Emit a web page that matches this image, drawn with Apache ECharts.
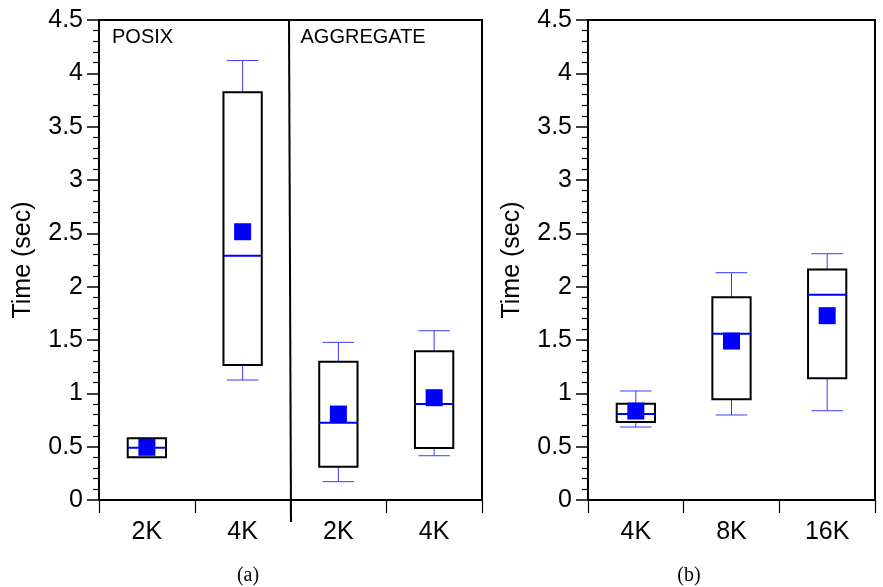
<!DOCTYPE html>
<html>
<head>
<meta charset="utf-8">
<script src="https://cdn.jsdelivr.net/npm/echarts@6/dist/echarts.min.js"></script>
<style>
html,body{margin:0;padding:0;background:#fff;}
#c{width:883px;height:587px;}
</style>
</head>
<body>
<div id="c"></div>
<script>
// ---- data ----
const catsA = ['2K', '4K', '2K', '4K'];
const lowA    = [0.40, 1.125, 0.172, 0.415];
const q1A     = [0.40, 1.266, 0.312, 0.488];
const medA    = [0.49, 2.29, 0.725, 0.90];
const q3A     = [0.578, 3.822, 1.297, 1.394];
const highA   = [0.578, 4.12, 1.478, 1.587];
const meanA   = [0.494, 2.515, 0.806, 0.959];
const groupLabelsA = ['POSIX', 'AGGREGATE'];

const catsB = ['4K', '8K', '16K'];
const lowB    = [0.684, 0.797, 0.837];
const q1B     = [0.731, 0.944, 1.141];
const medB    = [0.806, 1.559, 1.925];
const q3B     = [0.903, 1.90, 2.162];
const highB   = [1.022, 2.131, 2.309];
const meanB   = [0.834, 1.49, 1.728];

const yTicks = { min: 0, max: 4.5, interval: 0.5 };
const captions = ['(a)', '(b)'];

// ---- build ----
const FONT = 'Liberation Sans, Arial, Helvetica, sans-serif';
function boxData(low, q1, med, q3, high) {
  return low.map((v, i) => [i, v, q1[i], med[i], q3[i], high[i]]);
}
function meanData(m) { return m.map((v, i) => [i, v]); }

function renderBox(params, api) {
  const x = api.value(0);
  const pLow = api.coord([x, api.value(1)]);
  const pQ1 = api.coord([x, api.value(2)]);
  const pMed = api.coord([x, api.value(3)]);
  const pQ3 = api.coord([x, api.value(4)]);
  const pHigh = api.coord([x, api.value(5)]);
  const band = api.size([1, 0])[0];
  const bw = band * 0.40, cw = band * 0.33;
  const cx = pMed[0];
  const wStyle = { stroke: '#3a3aff', lineWidth: 1, fill: null };
  return {
    type: 'group',
    children: [
      { type: 'line', shape: { x1: cx, y1: pQ3[1], x2: cx, y2: pHigh[1] }, style: wStyle },
      { type: 'line', shape: { x1: cx - cw / 2, y1: pHigh[1], x2: cx + cw / 2, y2: pHigh[1] }, style: wStyle },
      { type: 'line', shape: { x1: cx, y1: pQ1[1], x2: cx, y2: pLow[1] }, style: wStyle },
      { type: 'line', shape: { x1: cx - cw / 2, y1: pLow[1], x2: cx + cw / 2, y2: pLow[1] }, style: wStyle },
      { type: 'rect', shape: { x: cx - bw / 2, y: pQ3[1], width: bw, height: pQ1[1] - pQ3[1] },
        style: { stroke: '#000', lineWidth: 2, fill: null } },
      { type: 'line', shape: { x1: cx - bw / 2, y1: pMed[1], x2: cx + bw / 2, y2: pMed[1] },
        style: { stroke: '#0000ff', lineWidth: 2 } }
    ]
  };
}

function yAxis(gi) {
  return {
    type: 'value', gridIndex: gi, min: yTicks.min, max: yTicks.max, interval: yTicks.interval,
    name: 'Time (sec)', nameLocation: 'middle', nameRotate: 90, nameGap: 63,
    nameTextStyle: { fontSize: 25, color: '#000', fontFamily: FONT },
    axisLine: { show: true, lineStyle: { color: '#000', width: 2 } },
    axisTick: { show: true, length: 12, lineStyle: { color: '#000', width: 1.5 } },
    minorTick: { show: true, splitNumber: 5, length: 6, lineStyle: { color: '#000', width: 1.2 } },
    splitLine: { show: false },
    axisLabel: { fontSize: 25, color: '#000', fontFamily: FONT, margin: 16 }
  };
}
function xAxis(gi, cats) {
  return {
    type: 'category', gridIndex: gi, data: cats, boundaryGap: true,
    axisLine: { show: true, lineStyle: { color: '#000', width: 2 } },
    axisTick: { show: true, length: 13, alignWithLabel: false, lineStyle: { color: '#000', width: 1.2 } },
    axisLabel: { fontSize: 25, color: '#000', fontFamily: FONT, margin: 20 },
    splitLine: { show: false }
  };
}

const chart = echarts.init(document.getElementById('c'), null, { renderer: 'canvas' });
const gridA = { left: 99, top: 20, width: 383, height: 480 };
const gridB = { left: 588, top: 20, width: 287, height: 480 };
chart.setOption({
  animation: false,
  backgroundColor: '#fff',
  grid: [
    Object.assign({ show: true, borderColor: '#000', borderWidth: 2, backgroundColor: 'transparent' }, gridA),
    Object.assign({ show: true, borderColor: '#000', borderWidth: 2, backgroundColor: 'transparent' }, gridB)
  ],
  xAxis: [xAxis(0, catsA), xAxis(1, catsB)],
  yAxis: [yAxis(0), yAxis(1)],
  title: [
    { text: captions[0], left: 243, top: 561, textAlign: 'center',
      textStyle: { fontSize: 20, fontWeight: 'normal', color: '#000', fontFamily: 'Liberation Serif, Times New Roman, serif' } },
    { text: captions[1], left: 684, top: 561, textAlign: 'center',
      textStyle: { fontSize: 20, fontWeight: 'normal', color: '#000', fontFamily: 'Liberation Serif, Times New Roman, serif' } }
  ],
  series: [
    { type: 'custom', xAxisIndex: 0, yAxisIndex: 0, renderItem: renderBox,
      data: boxData(lowA, q1A, medA, q3A, highA), encode: { x: 0, y: [1, 2, 3, 4, 5] } },
    { type: 'custom', xAxisIndex: 1, yAxisIndex: 1, renderItem: renderBox,
      data: boxData(lowB, q1B, medB, q3B, highB), encode: { x: 0, y: [1, 2, 3, 4, 5] } },
    { type: 'scatter', xAxisIndex: 0, yAxisIndex: 0, symbol: 'rect', symbolSize: 17,
      itemStyle: { color: '#0000ff', opacity: 1 }, data: meanData(meanA), z: 5 },
    { type: 'scatter', xAxisIndex: 1, yAxisIndex: 1, symbol: 'rect', symbolSize: 17,
      itemStyle: { color: '#0000ff', opacity: 1 }, data: meanData(meanB), z: 5 }
  ]
});

// group divider and labels in panel (a)
const p1 = chart.convertToPixel({ xAxisIndex: 0 }, 1);
const p2 = chart.convertToPixel({ xAxisIndex: 0 }, 2);
const divX = (p1 + p2) / 2;
const topY = gridA.top, botY = gridA.top + gridA.height;
chart.setOption({
  graphic: [
    { type: 'line', shape: { x1: divX - 1.5, y1: topY, x2: divX + 0.5, y2: botY + 22 },
      style: { stroke: '#000', lineWidth: 2 }, z: 10 },
    { type: 'text', x: gridA.left + 13, y: topY + 17,
      style: { text: groupLabelsA[0], fontSize: 20, fill: '#000', fontFamily: FONT, textVerticalAlign: 'middle' } },
    { type: 'text', x: divX + 10, y: topY + 17,
      style: { text: groupLabelsA[1], fontSize: 20, fill: '#000', fontFamily: FONT, textVerticalAlign: 'middle' } }
  ]
});
</script>
</body>
</html>
